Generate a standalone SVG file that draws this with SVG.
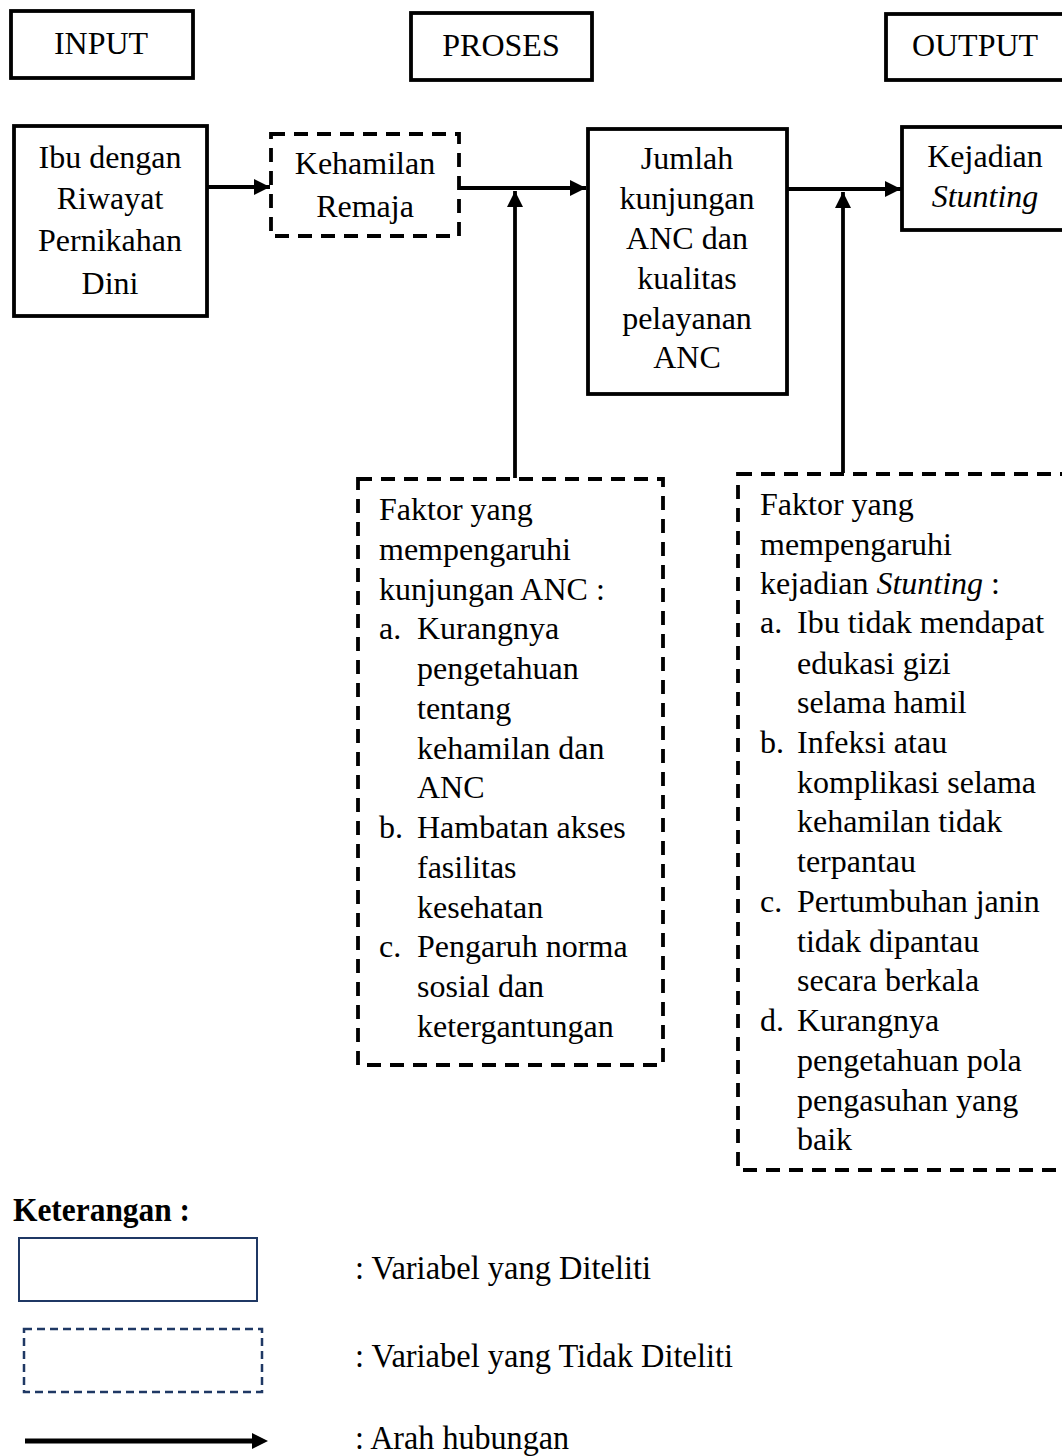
<svg xmlns="http://www.w3.org/2000/svg" width="1062" height="1456" viewBox="0 0 1062 1456">
<style>
text{font-family:"Liberation Serif","Times New Roman",serif;font-size:32px;fill:#000}
.c{text-anchor:middle}
.box{fill:#fff;stroke:#000;stroke-width:3.8}
.dbox{fill:#fff;stroke:#000;stroke-width:3.8;stroke-dasharray:14 9}
.conn{fill:none;stroke:#000;stroke-width:3.8}
.lg{font-size:34px}
</style>
<defs>
<marker id="ah" viewBox="0 0 10 10" refX="10" refY="5" markerWidth="4.3" markerHeight="4.3" markerUnits="strokeWidth" orient="auto">
<path d="M0,0 L10,5 L0,10 z" fill="#000"/>
</marker>
</defs>
<rect width="1062" height="1456" fill="#fff"/>

<g id="input-label"><rect class="box" x="11" y="11" width="182" height="67"/><text class="c" x="101" y="54">INPUT</text></g>
<g id="proses-label"><rect class="box" x="411" y="13" width="181" height="67"/><text class="c" x="501" y="56">PROSES</text></g>
<g id="output-label"><rect class="box" x="886" y="14" width="190" height="66"/><text class="c" x="975" y="56">OUTPUT</text></g>

<g id="ibu"><rect class="box" x="14" y="126" width="193" height="190"/>
<text class="c" x="110" y="168">Ibu dengan</text>
<text class="c" x="110" y="209">Riwayat</text>
<text class="c" x="110" y="251">Pernikahan</text>
<text class="c" x="110" y="294">Dini</text></g>

<g id="kehamilan"><rect class="dbox" x="271" y="134" width="188" height="102"/>
<text class="c" x="365" y="174">Kehamilan</text>
<text class="c" x="365" y="217">Remaja</text></g>

<g id="jumlah"><rect class="box" x="588" y="129" width="199" height="265"/>
<text class="c" x="687" y="169">Jumlah</text>
<text class="c" x="687" y="209">kunjungan</text>
<text class="c" x="687" y="249">ANC dan</text>
<text class="c" x="687" y="289">kualitas</text>
<text class="c" x="687" y="329">pelayanan</text>
<text class="c" x="687" y="368">ANC</text></g>

<g id="kejadian"><rect class="box" x="902" y="127" width="180" height="103"/>
<text class="c" x="985" y="167">Kejadian</text>
<text class="c" x="985" y="207" font-style="italic">Stunting</text></g>

<g id="faktor-anc"><rect class="dbox" x="358" y="479" width="305" height="586"/>
<text x="379" y="520">Faktor yang</text>
<text x="379" y="560">mempengaruhi</text>
<text x="379" y="600">kunjungan ANC :</text>
<text x="379" y="639">a.</text><text x="417" y="639">Kurangnya</text>
<text x="417" y="679">pengetahuan</text>
<text x="417" y="719">tentang</text>
<text x="417" y="759">kehamilan dan</text>
<text x="417" y="798">ANC</text>
<text x="379" y="838">b.</text><text x="417" y="838">Hambatan akses</text>
<text x="417" y="878">fasilitas</text>
<text x="417" y="918">kesehatan</text>
<text x="379" y="957">c.</text><text x="417" y="957">Pengaruh norma</text>
<text x="417" y="997">sosial dan</text>
<text x="417" y="1037">ketergantungan</text></g>

<g id="faktor-stunting"><rect class="dbox" x="738" y="474" width="340" height="696"/>
<text x="760" y="515">Faktor yang</text>
<text x="760" y="555">mempengaruhi</text>
<text x="760" y="594">kejadian <tspan font-style="italic">Stunting</tspan> :</text>
<text x="760" y="633">a.</text><text x="797" y="633">Ibu tidak mendapat</text>
<text x="797" y="674">edukasi gizi</text>
<text x="797" y="713">selama hamil</text>
<text x="760" y="753">b.</text><text x="797" y="753">Infeksi atau</text>
<text x="797" y="793">komplikasi selama</text>
<text x="797" y="832">kehamilan tidak</text>
<text x="797" y="872">terpantau</text>
<text x="760" y="912">c.</text><text x="797" y="912">Pertumbuhan janin</text>
<text x="797" y="952">tidak dipantau</text>
<text x="797" y="991">secara berkala</text>
<text x="760" y="1031">d.</text><text x="797" y="1031">Kurangnya</text>
<text x="797" y="1071">pengetahuan pola</text>
<text x="797" y="1111">pengasuhan yang</text>
<text x="797" y="1150">baik</text></g>

<g id="connectors">
<line class="conn" x1="207" y1="187" x2="270" y2="187" marker-end="url(#ah)"/>
<line class="conn" x1="459" y1="188" x2="586" y2="188" marker-end="url(#ah)"/>
<line class="conn" x1="515" y1="478" x2="515" y2="191" marker-end="url(#ah)"/>
<line class="conn" x1="787" y1="189" x2="901" y2="189" marker-end="url(#ah)"/>
<line class="conn" x1="843" y1="473" x2="843" y2="192" marker-end="url(#ah)"/>
</g>

<g id="legend">
<text x="13" y="1221" font-weight="bold" class="lg" textLength="177" lengthAdjust="spacingAndGlyphs">Keterangan :</text>
<rect x="19" y="1238" width="238" height="63" fill="#fff" stroke="#1F3864" stroke-width="2"/>
<rect x="24" y="1329" width="238" height="63" fill="none" stroke="#1F3864" stroke-width="2.5" stroke-dasharray="8 5"/>
<line x1="25" y1="1441" x2="254" y2="1441" stroke="#000" stroke-width="5"/>
<path d="M252,1433 L268,1441 L252,1449 z" fill="#000"/>
<text x="355" y="1279" class="lg" textLength="296" lengthAdjust="spacingAndGlyphs">: Variabel yang Diteliti</text>
<text x="355" y="1367" class="lg" textLength="378" lengthAdjust="spacingAndGlyphs">: Variabel yang Tidak Diteliti</text>
<text x="355" y="1449" class="lg" textLength="214" lengthAdjust="spacingAndGlyphs">: Arah hubungan</text>
</g>
</svg>
